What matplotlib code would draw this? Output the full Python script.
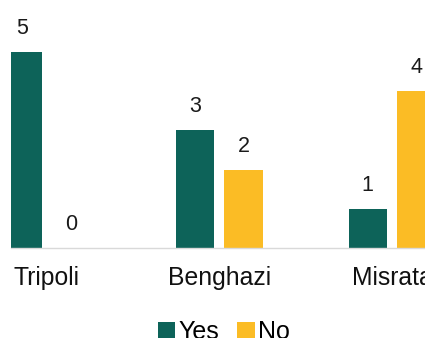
import matplotlib.pyplot as plt
import numpy as np

plt.rcParams['font.family'] = ['Liberation Sans', 'DejaVu Sans']

cities = ['Tripoli', 'Benghazi', 'Misrata']
yes_counts = [5, 3, 1]
no_counts = [0, 2, 4]

green = '#0D6359'
yellow = '#FBBC25'

fig = plt.figure(figsize=(4.25, 3.38), dpi=100)
ax = fig.add_axes([11/425, 90/338, 414/425, 248/338])

x = np.arange(len(cities))
w = 0.223
off = 0.1405
b1 = ax.bar(x - off, yes_counts, w, color=green, label='Yes')
b2 = ax.bar(x + off, no_counts, w, color=yellow, label='No')

# value labels above each bar
for bars in (b1, b2):
    for b in bars:
        h = b.get_height()
        ax.annotate(str(int(h)), (b.get_x() + b.get_width()/2, h),
                    xytext=(0, 13), textcoords='offset points',
                    ha='center', va='baseline', fontsize=15.5, color='#1a1a1a')

ax.set_xlim(-0.207, 2.191)
ax.set_ylim(0, 6.33)
ax.set_xticks(x)
ax.set_xticklabels(cities, fontsize=17.8, color='#111111')
ax.tick_params(axis='x', length=0, pad=13)
ax.set_yticks([])
for s in ['top', 'right', 'left']:
    ax.spines[s].set_visible(False)
ax.spines['bottom'].set_color('#D9D9D9')
ax.spines['bottom'].set_linewidth(1)

fig.legend(handles=[b1, b2], loc='upper center', bbox_to_anchor=(0.527, 0.09),
           ncol=2, frameon=False, fontsize=18, handlelength=0.7,
           handleheight=0.7, handletextpad=0.15, columnspacing=0.7, borderpad=0)

fig.savefig('out.png', dpi=100)
